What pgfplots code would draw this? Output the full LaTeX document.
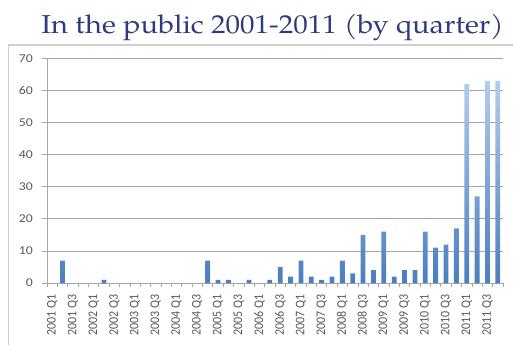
\documentclass[border=0pt]{standalone}
\usepackage{pgfplots}
\pgfplotsset{compat=1.18}
\usepackage{fontspec}
\setmainfont{Carlito}
\newfontfamily\titlefont{TeX Gyre Pagella}
\definecolor{titleblue}{HTML}{2E3A7C}
\definecolor{labgray}{HTML}{595959}
\definecolor{gridgray}{HTML}{A6A6A6}
\definecolor{bartop}{HTML}{B4CCEC}
\definecolor{barbot}{HTML}{4A7EBE}
\definecolor{framegray}{HTML}{CFCFCF}
\begin{document}
\begin{tikzpicture}[x=1bp,y=1bp]
\path[use as bounding box] (0,0) rectangle (513,344);
\draw[framegray, line width=1.8bp] (8.5,-10) rectangle (530,299);
\node[anchor=base, text=titleblue, font=\titlefont\fontsize{26}{28}\selectfont, inner sep=0pt, xscale=1.12] at (272.5,311) {In the public 2001-2011 (by quarter)};
\begin{axis}[
  scale only axis,
  width=456bp, height=224.5bp,
  at={(47bp,61bp)}, anchor=south west,
  xmin=-0.5, xmax=43.5, ymin=0, ymax=70,
  ytick={0,10,...,70},
  axis lines=left,
  axis line style={draw=gridgray, line width=0.8bp, -},
  ymajorgrids,
  grid style={draw=gridgray, line width=0.8bp},
  tick align=outside,
  major tick length=5bp,
  minor tick length=4bp,
  tick style={draw=gridgray, line width=0.8bp},
  xtick={0,2,...,42},
  xticklabels={2001 Q1,2001 Q3,2002 Q1,2002 Q3,2003 Q1,2003 Q3,2004 Q1,2004 Q3,2005 Q1,2005 Q3,2006 Q1,2006 Q3,2007 Q1,2007 Q3,2008 Q1,2008 Q3,2009 Q1,2009 Q3,2010 Q1,2010 Q3,2011 Q1,2011 Q3},
  major x tick style={draw=none},
  minor xtick={-0.5,0.5,...,43.5},
  xticklabel style={rotate=90, anchor=east, font=\fontsize{12}{12}\selectfont, text=labgray, inner sep=0bp, xshift=-6bp, yscale=1.1},
  yticklabel style={font=\fontsize{12}{12}\selectfont, text=labgray, inner sep=0bp, xshift=-9bp, xscale=1.15},
  /pgf/number format/assume math mode=true,
  clip=false,
]
\addplot[ybar, bar width=4.8bp, draw=none, top color=bartop, bottom color=barbot] coordinates {
(0,0)(1,7)(2,0)(3,0)(4,0)(5,1)(6,0)(7,0)(8,0)(9,0)(10,0)(11,0)(12,0)(13,0)(14,0)
(15,7)(16,1)(17,1)(18,0)(19,1)(20,0)(21,1)(22,5)(23,2)(24,7)(25,2)(26,1)(27,2)
(28,7)(29,3)(30,15)(31,4)(32,16)(33,2)(34,4)(35,4)(36,16)(37,11)(38,12)(39,17)
(40,62)(41,27)(42,63)(43,63)};
\end{axis}
\end{tikzpicture}
\end{document}
